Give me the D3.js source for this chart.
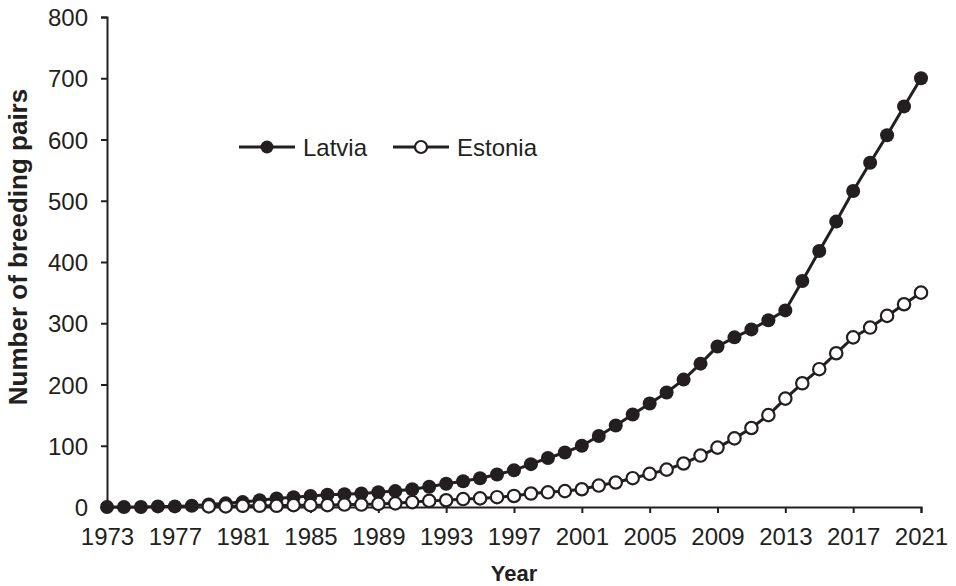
<!DOCTYPE html>
<html>
<head>
<meta charset="utf-8">
<script src="https://cdn.jsdelivr.net/npm/d3@7/dist/d3.min.js"></script>
<style>
  html, body { margin: 0; padding: 0; background: #fff; }
  svg { display: block; }
  text { font-family: "Liberation Sans", Arial, Helvetica, sans-serif; fill: #231f20; }
</style>
</head>
<body>
<svg id="chart" width="956" height="586"></svg>
<script>
// Breeding pairs per year, 1973–2021
const latviaYears = d3.range(1973, 2022);
const latviaPairs = [
  0, 0, 0, 1, 1, 2, 4, 6, 8, 11,
  14, 16, 18, 20, 21, 22, 24, 26, 29, 33,
  38, 42, 47, 53, 60, 70, 80, 89, 100, 116,
  133, 151, 169, 187, 208, 234, 262, 277, 290, 305,
  321, 369, 418, 466, 516, 562, 607, 654, 700
];
const estoniaYears = d3.range(1979, 2022);
const estoniaPairs = [
  1, 1, 2, 2, 2, 3, 3, 3, 4, 4,
  5, 6, 8, 10, 11, 13, 14, 16, 18, 22,
  24, 26, 29, 35, 40, 47, 54, 61, 71, 84,
  97, 112, 129, 150, 177, 202, 225, 251, 277, 293,
  312, 331, 350
];
const xTickYears = [1973, 1977, 1981, 1985, 1989, 1993, 1997, 2001, 2005, 2009, 2013, 2017, 2021];
const yTickValues = [0, 100, 200, 300, 400, 500, 600, 700, 800];
const seriesNames = ["Latvia", "Estonia"];

const ink = "#231f20";
const svg = d3.select("#chart");
const plot = { left: 107, right: 921, top: 17, bottom: 507 };

const x = d3.scaleLinear().domain([1973, 2021]).range([plot.left, plot.right]);
const y = d3.scaleLinear().domain([0, 800]).range([plot.bottom, plot.top]);

// Axes
const xAxis = svg.append("g")
  .attr("transform", `translate(0,${plot.bottom})`)
  .call(d3.axisBottom(x).tickValues(xTickYears).tickFormat(d3.format("d")).tickSize(6).tickPadding(15));
const yAxis = svg.append("g")
  .attr("transform", `translate(${plot.left},0)`)
  .call(d3.axisLeft(y).tickValues(yTickValues).tickSize(6).tickPadding(13));
[xAxis, yAxis].forEach(g => {
  g.select(".domain").attr("stroke", ink).attr("stroke-width", 2);
  g.selectAll(".tick line").attr("stroke", ink).attr("stroke-width", 2);
  g.selectAll(".tick text").attr("fill", ink).style("font-size", "24px")
    .style("font-family", '"Liberation Sans", Arial, sans-serif');
});
yAxis.selectAll(".tick text").attr("dy", "0.36em");
xAxis.selectAll(".tick text").attr("dy", "0.72em");

// Axis titles
svg.append("text")
  .attr("x", (plot.left + plot.right) / 2).attr("y", 581)
  .attr("text-anchor", "middle")
  .style("font-size", "22px").style("font-weight", "bold")
  .text("Year");
svg.append("text")
  .attr("transform", "translate(27,247) rotate(-90)")
  .attr("text-anchor", "middle")
  .style("font-size", "26px").style("font-weight", "bold")
  .text("Number of breeding pairs");

const line = d3.line().x(d => x(d[0])).y(d => y(d[1]));
const latvia = latviaYears.map((yr, i) => [yr, latviaPairs[i]]);
const estonia = estoniaYears.map((yr, i) => [yr, estoniaPairs[i]]);

// Latvia: solid markers
svg.append("path").datum(latvia).attr("d", line)
  .attr("fill", "none").attr("stroke", ink).attr("stroke-width", 3);
svg.append("g").selectAll("circle").data(latvia).join("circle")
  .attr("cx", d => x(d[0])).attr("cy", d => y(d[1])).attr("r", 7)
  .attr("fill", ink);

// Estonia: open markers, drawn on top
svg.append("path").datum(estonia).attr("d", line)
  .attr("fill", "none").attr("stroke", ink).attr("stroke-width", 3);
svg.append("g").selectAll("circle").data(estonia).join("circle")
  .attr("cx", d => x(d[0])).attr("cy", d => y(d[1])).attr("r", 6.2)
  .attr("fill", "#fff").attr("stroke", ink).attr("stroke-width", 2.2);

// Legend
const legend = svg.append("g");
const legendItems = [
  { name: seriesNames[0], x0: 239, filled: true },
  { name: seriesNames[1], x0: 393, filled: false }
];
legendItems.forEach(it => {
  const g = legend.append("g").attr("transform", `translate(${it.x0},147)`);
  g.append("line").attr("x1", 0).attr("x2", 56).attr("y1", 0).attr("y2", 0)
    .attr("stroke", ink).attr("stroke-width", 3);
  g.append("circle").attr("cx", 28).attr("cy", 0).attr("r", it.filled ? 6.5 : 6)
    .attr("fill", it.filled ? ink : "#fff")
    .attr("stroke", ink).attr("stroke-width", it.filled ? 0 : 2.2);
  g.append("text").attr("x", 64).attr("y", 8.5)
    .style("font-size", "24px").text(it.name);
});
</script>
</body>
</html>
